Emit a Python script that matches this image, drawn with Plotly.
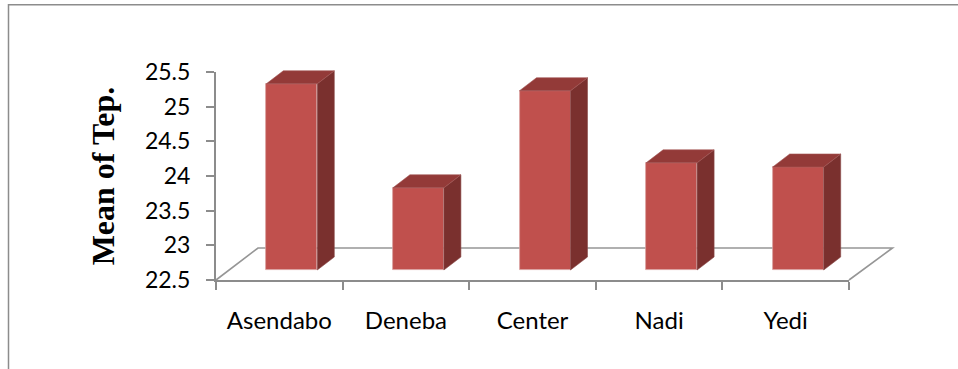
import plotly.graph_objects as go

# Data
categories = ["Asendabo", "Deneba", "Center", "Nadi", "Yedi"]
mean_temp = [25.33, 23.83, 25.23, 24.19, 24.13]
y_ticks = [22.5, 23, 23.5, 24, 24.5, 25, 25.5]
y_tick_labels = ["22.5", "23", "23.5", "24", "24.5", "25", "25.5"]
y_title = "Mean of Tep."

# Layout geometry (pixels)
W, H = 958, 369
AX_L, AX_R, AX_T, AX_B = 216, 849, 72, 280
OV_L, OV_R, OV_T, OV_B = 200, 900, 55, 295
PX_X = (AX_R - AX_L) / len(categories)
PX_Y = (AX_B - AX_T) / (y_ticks[-1] - y_ticks[0])

# 3-D look, in axis units
bar_w = 51 / PX_X
bar_shift = 12.5 / PX_X
dx = 17 / PX_X
dy = 13 / PX_Y
base = y_ticks[0] + 10 / PX_Y

def px(x): return x / W
def py(y): return 1 - y / H

ov_xrange = [(OV_L - AX_L) / PX_X - 0.5, (OV_R - AX_L) / PX_X - 0.5]
ov_yrange = [y_ticks[0] + (AX_B - OV_B) / PX_Y, y_ticks[0] + (AX_B - OV_T) / PX_Y]

idx = list(range(len(categories)))
side_x, side_y, top_x, top_y = [], [], [], []
for i, v in zip(idx, mean_temp):
    l = i + bar_shift - bar_w / 2
    r = i + bar_shift + bar_w / 2
    side_x += [r, r + dx, r + dx, r, r, None]
    side_y += [base, base + dy, v + dy, v, base, None]
    top_x += [l, l + dx, r + dx, r, l, None]
    top_y += [v, v + dy, v + dy, v, v, None]

fig = go.Figure()
# Real axes: categories and ticks
fig.add_trace(go.Scatter(x=categories, y=mean_temp, mode="none", xaxis="x", yaxis="y",
                         showlegend=False, hoverinfo="skip"))
EDGE = "#D9A09E"
fig.add_trace(go.Bar(x=[i + bar_shift for i in idx], y=[v - base for v in mean_temp], base=base,
                     width=bar_w, marker=dict(color="#C0504D", line=dict(color=EDGE, width=0.8)),
                     xaxis="x2", yaxis="y2", showlegend=False, hoverinfo="skip"))
fig.add_trace(go.Scatter(x=side_x, y=side_y, mode="lines", fill="toself", fillcolor="#7A302E",
                         line=dict(color="#8A4A48", width=0.6), xaxis="x2", yaxis="y2",
                         showlegend=False, hoverinfo="skip"))
fig.add_trace(go.Scatter(x=top_x, y=top_y, mode="lines", fill="toself", fillcolor="#933A38",
                         line=dict(color="#A25654", width=0.6), xaxis="x2", yaxis="y2",
                         showlegend=False, hoverinfo="skip"))

GREY = "#8C8C8C"
floor = dict(type="path", xref="paper", yref="paper", layer="below",
             line=dict(color="#969696", width=1.6),
             path=f"M {px(AX_L)} {py(AX_B)} L {px(258)} {py(248)} L {px(892.5)} {py(248)} L {px(AX_R)} {py(AX_B)}")
frame = dict(type="path", xref="paper", yref="paper", layer="below",
             line=dict(color=GREY, width=1.5),
             path=f"M {px(8.5)} 0 L {px(8.5)} {py(4.8)} L 1 {py(4.8)}")

TICK_FONT = dict(family="Lato", size=23, color="#000000")
XTICK_FONT = dict(family="Lato", size=24, color="#000000")
fig.update_layout(
    width=W, height=H, margin=dict(l=0, r=0, t=0, b=0), autosize=False,
    paper_bgcolor="white", plot_bgcolor="rgba(0,0,0,0)", bargap=0, shapes=[floor, frame],
    xaxis=dict(domain=[px(AX_L), px(AX_R)], range=[-0.5, 4.5], type="category", automargin=False,
               tickmode="array", tickvals=idx, ticktext=categories, ticks="",
               showgrid=False, zeroline=False, showline=True, linecolor=GREY, linewidth=2,
               tickfont=XTICK_FONT, ticklabelstandoff=18,
               minor=dict(tickmode="array", tickvals=[i - 0.5 for i in range(6)], ticks="outside",
                          ticklen=8, tickwidth=2, tickcolor=GREY, showgrid=False)),
    yaxis=dict(domain=[py(AX_B), py(AX_T)], range=[y_ticks[0], y_ticks[-1]], automargin=False,
               tickmode="array", tickvals=y_ticks, ticktext=y_tick_labels,
               ticks="outside", ticklen=8, tickwidth=2, tickcolor=GREY,
               showgrid=False, zeroline=False, showline=True, linecolor=GREY, linewidth=2,
               tickfont=TICK_FONT, ticklabelstandoff=11,
               title=dict(text=y_title, standoff=21,
                          font=dict(family="Liberation Serif", size=32, color="black", weight="bold"))),
    xaxis2=dict(domain=[px(OV_L), px(OV_R)], range=ov_xrange, anchor="y2", visible=False, automargin=False),
    yaxis2=dict(domain=[py(OV_B), py(OV_T)], range=ov_yrange, anchor="x2", visible=False, automargin=False),
)

fig.write_html("out.html", config={"displayModeBar": False},
               post_script="document.body.style.margin='0';document.body.style.overflow='hidden';")
